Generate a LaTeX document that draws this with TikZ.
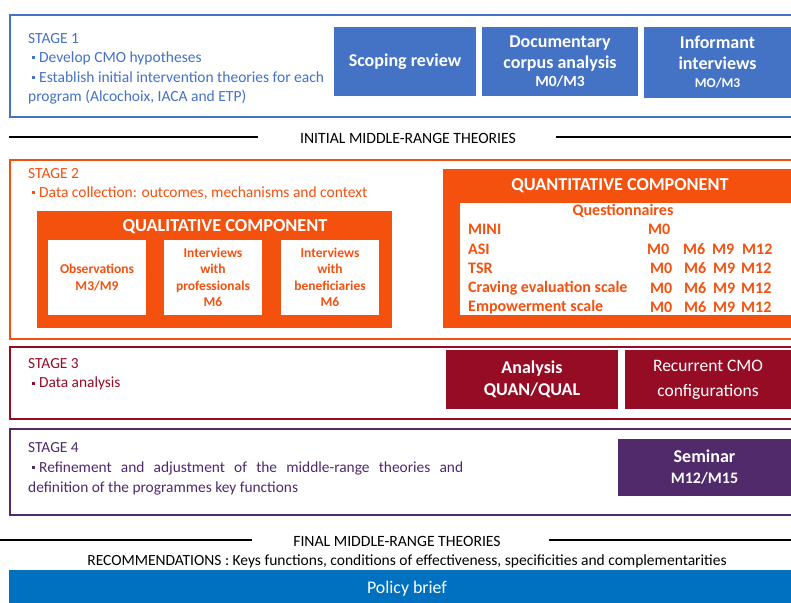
\documentclass[tikz,border=0pt]{standalone}
\usepackage{fontspec}
\setmainfont{Carlito}
\definecolor{sblue}{HTML}{4472C4}
\definecolor{sorange}{HTML}{F4510F}
\definecolor{scrim}{HTML}{960C25}
\definecolor{spurp}{HTML}{512A6C}
\definecolor{pbblue}{HTML}{0070C0}
\newcommand\sqbul{\raisebox{0.22em}{\rule{3pt}{3pt}}\hspace{4pt}}
\newcommand\fs[2]{\fontsize{#1}{#2}\selectfont}
\begin{document}
\begin{tikzpicture}[x=1pt,y=-1pt,
  stagebox/.style={draw, line width=2pt, fill=white, inner sep=0pt, anchor=north west},
  fillbox/.style={fill=#1, text=white, inner sep=0pt, align=center, font=\bfseries\fs{18}{21}},
  whitebox/.style={fill=white, text=sorange, inner sep=0pt, align=center, font=\bfseries\fs{13.5}{16.5}},
  stagetext/.style={anchor=north west, inner sep=0pt, align=left, text=#1},
  qrow/.style={anchor=west, inner sep=0pt, text=sorange, font=\bfseries\fs{16}{18}},
  sepline/.style={line width=2pt, black},
  midtext/.style={inner sep=0pt, font=\fs{15.7}{18}}]
\useasboundingbox (0,0) rectangle (791,602);

% ---------------- STAGE 1
\node[stagebox, draw=sblue, minimum width=790pt, minimum height=102pt] (s1) at (9,14) {};
\node[stagetext=sblue, font=\fs{15.5}{19.4}] (s1t) at (28,33)
  {STAGE 1\\ \hspace*{4pt}\sqbul Develop CMO hypotheses\\ \hspace*{4pt}\sqbul Establish initial intervention theories for each\\ program (Alcochoix, IACA and ETP)};
\node[fillbox=sblue, minimum width=142pt, minimum height=69pt] (scop) at (405,61.5) {Scoping review};
\node[fillbox=sblue, minimum width=156pt, minimum height=69pt] (doc) at (560,61.5)
  {Documentary\\corpus analysis\\[-3pt]{\fs{15.5}{16}M0/M3}};
\node[fillbox=sblue, minimum width=147pt, minimum height=71pt] (inf) at (717.5,62.5)
  {Informant\\interviews\\[-3pt]{\fs{13.5}{15}MO/M3}};

% ---------------- INITIAL MRT
\node[midtext] (imr) at (408,138) {INITIAL MIDDLE-RANGE THEORIES};
\coordinate (ila) at (9,137);
\coordinate (ilb) at (258,137);
\coordinate (ilc) at (556,137);
\coordinate (ild) at (795,137);
\draw[sepline] (ila) -- (ilb);
\draw[sepline] (ilc) -- (ild);

% ---------------- STAGE 2
\node[stagebox, draw=sorange, minimum width=790pt, minimum height=179pt] (s2) at (9,159) {};
\node[stagetext=sorange, font=\fs{15.5}{19.6}] (s2t) at (28,168)
  {STAGE 2\\ \hspace*{4pt}\sqbul Data collection: outcomes, mechanisms and context};
\node[fill=sorange, minimum width=355pt, minimum height=117pt, inner sep=0pt] (qual) at (214.5,269.5) {};
\node[text=white, font=\bfseries\fs{18.3}{20}, inner sep=0pt] (qualt) at (225,227) {QUALITATIVE COMPONENT};
\node[whitebox, minimum width=98pt, minimum height=75pt] (obs) at (97,277.5) {Observations\\M3/M9};
\node[whitebox, minimum width=98pt, minimum height=75pt] (prof) at (213,277.5) {Interviews\\with\\professionals\\M6};
\node[whitebox, minimum width=98pt, minimum height=75pt] (ben) at (330,277.5) {Interviews\\with\\beneficiaries\\M6};

\node[fill=sorange, minimum width=356pt, minimum height=159pt, inner sep=0pt, anchor=north west] (quant) at (443,169) {};
\node[text=white, font=\bfseries\fs{18.2}{20}, inner sep=0pt] (quantt) at (620,186) {QUANTITATIVE COMPONENT};
\node[fill=white, minimum width=340pt, minimum height=112pt, inner sep=0pt, anchor=north west] (qin) at (460,203) {};
\node[text=sorange, font=\bfseries\fs{16}{18}, inner sep=0pt] (qtit) at (623,211) {Questionnaires};
\node[qrow] (r1) at (468,229.5) {MINI};
\node[qrow] (r2) at (468,249) {ASI};
\node[qrow] (r3) at (468,268.5) {TSR};
\node[qrow] (r4) at (468,288) {Craving evaluation scale};
\node[qrow] (r5) at (468,307) {Empowerment scale};
\node[qrow] (m10) at (648,229.5) {M0};
\node[qrow] (m20) at (647,249) {M0};
\node[qrow] (m26) at (683,249) {M6};
\node[qrow] (m29) at (712,249) {M9};
\node[qrow] (m212) at (742,249) {M12};
\node[qrow] (m30) at (650,268.5) {M0};
\node[qrow] (m36) at (684,268.5) {M6};
\node[qrow] (m39) at (713,268.5) {M9};
\node[qrow] (m312) at (741,268.5) {M12};
\node[qrow] (m40) at (650,288) {M0};
\node[qrow] (m46) at (684,288) {M6};
\node[qrow] (m49) at (713,288) {M9};
\node[qrow] (m412) at (741,288) {M12};
\node[qrow] (m50) at (650,307) {M0};
\node[qrow] (m56) at (684,307) {M6};
\node[qrow] (m59) at (713,307) {M9};
\node[qrow] (m512) at (741,307) {M12};

% ---------------- STAGE 3
\node[stagebox, draw=scrim, minimum width=790pt, minimum height=72pt] (s3) at (9,346) {};
\node[stagetext=scrim, font=\fs{15.4}{19.8}] (s3t) at (28,358)
  {STAGE 3\\ \hspace*{4pt}\sqbul Data analysis};
\node[fillbox=scrim, minimum width=172pt, minimum height=59pt, font=\bfseries\fs{18}{22}] (ana) at (532,379.5) {Analysis\\QUAN/QUAL};
\node[fillbox=scrim, minimum width=166pt, minimum height=59pt, font=\fs{17.5}{25}] (rec) at (708,379.5) {Recurrent CMO\\configurations};

% ---------------- STAGE 4
\node[stagebox, draw=spurp, minimum width=790pt, minimum height=86pt] (s4) at (9,428) {};
\node[stagetext=spurp, font=\fs{15.4}{20}, text width=435pt, align=justify] (s4t) at (28,442)
  {STAGE 4\\ \hspace*{4pt}\sqbul Refinement and adjustment of the middle-range theories and\linebreak definition of the programmes key functions};
\node[fillbox=spurp, minimum width=173pt, minimum height=57pt, font=\bfseries\fs{18}{21}] (sem) at (704.5,467.5) {Seminar\\{\fs{16}{18}M12/M15}};

% ---------------- FINAL
\node[midtext] (fmr) at (397,541) {FINAL MIDDLE-RANGE THEORIES};
\coordinate (fla) at (0,540);
\coordinate (flb) at (252,540);
\coordinate (flc) at (549,540);
\coordinate (fld) at (795,540);
\draw[sepline] (fla) -- (flb);
\draw[sepline] (flc) -- (fld);
\node[inner sep=0pt, font=\fs{15.5}{17}] (rec2) at (407,561)
  {RECOMMENDATIONS : Keys functions, conditions of effectiveness, specificities and complementarities};
\node[fill=pbblue, minimum width=786pt, minimum height=36pt, inner sep=0pt, anchor=north west] (pb) at (9,570) {};
\node[text=white, inner sep=0pt, font=\fs{17.8}{19}] (pbt) at (407,589) {Policy brief};
\end{tikzpicture}
\end{document}
